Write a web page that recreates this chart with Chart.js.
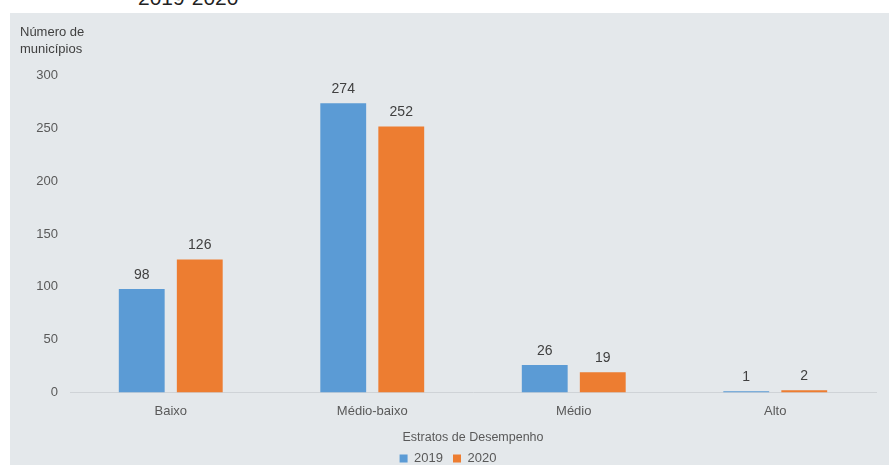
<!DOCTYPE html>
<html lang="pt-BR">
<head>
<meta charset="utf-8">
<title>Municípios por estrato de desempenho</title>
<script src="https://cdn.jsdelivr.net/npm/chart.js@4"></script>
<style>
    html, body { margin: 0; padding: 0; background: #fff; overflow: hidden; }
    body { width: 889px; height: 466px; position: relative; font-family: "Liberation Sans", Arial, sans-serif; }
    #heading {
        position: absolute; left: 138px; top: -13px;
        font-size: 21px; line-height: 21px; color: #222; white-space: nowrap;
    }
    #panel {
        position: absolute; left: 10px; top: 13px; width: 879px; height: 452px;
        background: #e4e8eb; overflow: hidden;
    }
</style>
</head>
<body>
<div id="heading">2019-2020</div>
<div id="panel"><canvas id="strataChart" width="879" height="462"></canvas></div>
<script>
const strata = ["Baixo", "Médio-baixo", "Médio", "Alto"];
const years = ["2019", "2020"];
const values2019 = [98, 274, 26, 1];
const values2020 = [126, 252, 19, 2];
const yTicks = [0, 50, 100, 150, 200, 250, 300];

const textColor = "#595959";
const fontFamily = "'Liberation Sans', Arial, sans-serif";

// value above each bar
const barValues = {
    id: "barValues",
    afterDatasetsDraw(chart) {
        const ctx = chart.ctx;
        ctx.save();
        ctx.font = "14px " + fontFamily;
        ctx.fillStyle = "#404040";
        ctx.textAlign = "center";
        ctx.textBaseline = "alphabetic";
        chart.data.datasets.forEach((ds, i) => {
            chart.getDatasetMeta(i).data.forEach((bar, j) => {
                ctx.fillText(ds.data[j], bar.x, bar.y - 10);
            });
        });
        ctx.restore();
    }
};

new Chart(document.getElementById("strataChart"), {
    type: "bar",
    data: {
        labels: strata,
        datasets: [
            { label: years[0], data: values2019, backgroundColor: "#5b9bd5" },
            { label: years[1], data: values2020, backgroundColor: "#ed7d31" }
        ]
    },
    options: {
        responsive: false,
        animation: false,
        categoryPercentage: 0.576,
        barPercentage: 0.79,
        layout: { padding: { left: 10, right: 13, top: 11, bottom: 0 } },
        plugins: {
            title: {
                display: true,
                text: ["Número de", "municípios"],
                align: "start",
                color: "#404040",
                font: { family: fontFamily, size: 13, weight: "normal", lineHeight: 1.3 },
                padding: { top: 0, bottom: 18 }
            },
            legend: {
                position: "bottom",
                labels: {
                    boxWidth: 8, boxHeight: 8, padding: 10,
                    color: textColor,
                    font: { family: fontFamily, size: 13 }
                }
            },
            tooltip: { enabled: false }
        },
        scales: {
            x: {
                grid: { display: false, drawTicks: false },
                border: { display: true, color: "#cfd3d7", width: 1 },
                ticks: { color: textColor, padding: 11, font: { family: fontFamily, size: 13 } },
                title: {
                    display: true,
                    text: "Estratos de Desempenho",
                    color: textColor,
                    font: { family: fontFamily, size: 12.5 },
                    padding: { top: 0, bottom: -3 }
                }
            },
            y: {
                min: 0,
                max: 300,
                afterBuildTicks: axis => { axis.ticks = yTicks.map(v => ({ value: v })); },
                afterFit: axis => { axis.width = 50; },
                grid: { display: false, drawTicks: false },
                border: { display: false },
                ticks: { color: textColor, padding: 12, font: { family: fontFamily, size: 13 } }
            }
        }
    },
    plugins: [barValues]
});
</script>
</body>
</html>
